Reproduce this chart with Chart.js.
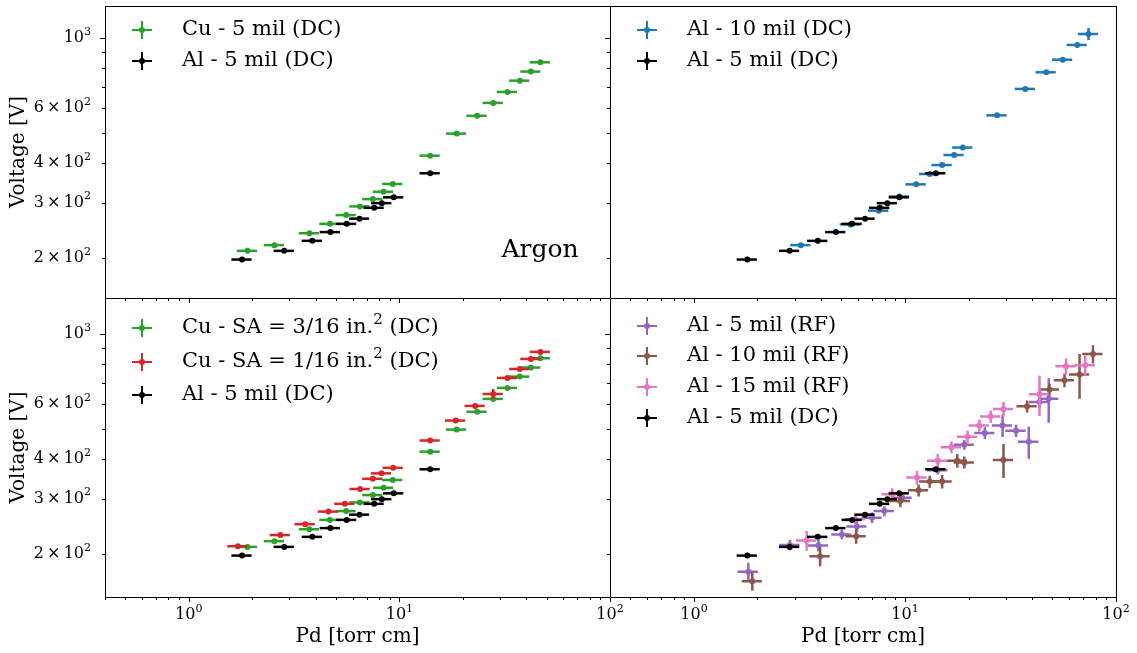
<!DOCTYPE html>
<html>
<head>
<meta charset="utf-8">
<script src="https://cdn.jsdelivr.net/npm/chart.js@4/dist/chart.umd.min.js"></script>
<style>
html, body { margin: 0; padding: 0; background: #fff; }
#wrap { position: relative; width: 1137px; height: 653px; }
#wrap canvas { position: absolute; left: 0; top: 0; }
</style>
</head>
<body>
<div id="wrap">
  <canvas id="tl" width="1137" height="653"></canvas>
  <canvas id="tr" width="1137" height="653"></canvas>
  <canvas id="bl" width="1137" height="653"></canvas>
  <canvas id="br" width="1137" height="653"></canvas>
</div>
<script>
// Breakdown voltage vs Pd (argon)

// Al - 5 mil (DC) - reference set, shown in every panel
const al5dcPd = [1.79, 2.84, 3.86, 4.70, 5.62, 6.47, 7.59, 8.25, 9.40, 14.0];
const al5dcV  = [198, 211, 227, 242, 257, 267, 289, 299, 312, 372];

// Cu - 5 mil (DC), same set as Cu - SA = 3/16 in.^2
const cu5dcPd = [1.90, 2.55, 3.74, 4.68, 5.59, 6.49, 7.48, 8.41, 9.30, 14.0, 18.7, 23.4, 27.9, 32.6, 37.3, 42.1, 46.7];
const cu5dcV  = [211, 220, 240, 257, 274, 292, 308, 325, 344, 423, 497, 566, 622, 674, 732, 782, 837];

// Al - 10 mil (DC)
const al10dcPd   = [3.21, 5.51, 7.51, 9.43, 11.3, 13.1, 15.0, 17.1, 18.8, 27.3, 37.2, 46.7, 55.9, 65.5, 74.1];
const al10dcV    = [220, 256, 283, 314, 343, 370, 395, 425, 449, 568, 689, 778, 853, 950, 1030];
const al10dcVErr = [0, 0, 0, 0, 0, 0, 0, 0, 0, 0, 0, 0, 0, 0, 45];

// Cu - SA = 1/16 in.^2 (DC)
const cuSa16Pd   = [1.71, 2.72, 3.57, 4.60, 5.51, 6.51, 7.48, 8.22, 9.35, 14.0, 18.5, 22.9, 27.9, 32.6, 37.3, 42.1, 46.7];
const cuSa16V    = [212, 230, 249, 273, 289, 322, 347, 361, 376, 459, 531, 591, 645, 725, 774, 833, 877];
const cuSa16VErr = [0, 0, 0, 0, 0, 0, 0, 0, 0, 0, 0, 0, 24, 0, 0, 0, 0];

// Al - 5 mil (RF)
const al5rfPd   = [1.81, 2.85, 3.89, 5.02, 5.92, 6.98, 7.98, 9.69, 14.3, 19.1, 23.9, 29.0, 33.6, 38.6, 43.4, 48.0];
const al5rfV    = [176, 214, 213, 231, 245, 261, 274, 302, 369, 445, 485, 512, 493, 455, 608, 623];
const al5rfVErr = [12, 8, 9, 8, 9, 10, 10, 9, 11, 16, 21, 41, 22, 53, 27, 100];

// Al - 10 mil (RF)
const al10rfPd   = [1.89, 3.96, 5.87, 9.51, 11.6, 13.1, 15.0, 17.7, 19.1, 29.3, 37.9, 48.4, 57.0, 67.2, 77.8];
const al10rfV    = [164, 197, 228, 295, 319, 340, 340, 396, 391, 398, 589, 666, 713, 743, 863];
const al10rfVErr = [11, 14, 12, 13, 14, 15, 17, 20, 17, 49, 26, 29, 36, 120, 57];

// Al - 15 mil (RF)
const al15rfPd   = [3.42, 5.81, 8.70, 11.4, 14.3, 16.6, 19.8, 22.5, 25.5, 29.3, 43.4, 58.0, 71.5];
const al15rfV    = [221, 258, 310, 350, 396, 437, 472, 512, 547, 578, 643, 790, 796];
const al15rfVErr = [16, 9, 14, 18, 20, 19, 21, 22, 24, 30, 94, 46, 58];

// Pd uncertainty (relative), same for every point
const PD_REL_ERR = 0.11;

// axes
const X_MIN = 0.4, X_MAX = 100;
const xMajor = [1, 10, 100];
const xMinor = [0.4, 0.5, 0.6, 0.7, 0.8, 0.9, 2, 3, 4, 5, 6, 7, 8, 9, 20, 30, 40, 50, 60, 70, 80, 90];
const yMajor = [1000];
const yMinor = [200, 300, 400, 500, 600, 700, 800, 900];
const yLabelled = [[200, '2', 2], [300, '3', 2], [400, '4', 2], [600, '6', 2], [1000, '', 3]];

const W = 1137, H = 653;
const SERIF = '"DejaVu Serif", "Liberation Serif", serif';

// draws the Pd and V error bars of a dataset just before its markers
const errorBars = {
  id: 'errorBars',
  beforeDatasetDraw(chart, args) {
    const ds = chart.data.datasets[args.index];
    const xs = chart.scales.x, ys = chart.scales.y, a = chart.chartArea;
    const ctx = chart.ctx;
    ctx.save();
    ctx.beginPath();
    ctx.rect(a.left, a.top, a.right - a.left, a.bottom - a.top);
    ctx.clip();
    ctx.strokeStyle = ds.borderColor;
    ctx.lineWidth = ds.barWidth;
    ds.data.forEach((p, i) => {
      const dx = p.x * PD_REL_ERR;
      const dy = ds.yErr ? ds.yErr[i] : 0;
      const px = xs.getPixelForValue(p.x), py = ys.getPixelForValue(p.y);
      ctx.beginPath();
      ctx.moveTo(xs.getPixelForValue(p.x - dx), py);
      ctx.lineTo(xs.getPixelForValue(p.x + dx), py);
      if (dy > 0) {
        ctx.moveTo(px, ys.getPixelForValue(p.y - dy));
        ctx.lineTo(px, ys.getPixelForValue(p.y + dy));
      }
      ctx.stroke();
    });
    ctx.restore();
  }
};

function drawParts(ctx, parts, x, y, size) {
  // parts at odd index are superscripts
  ctx.textAlign = 'left';
  ctx.textBaseline = 'middle';
  let cx = x;
  parts.forEach((t, i) => {
    if (i % 2 === 1) {
      ctx.font = Math.round(size * 0.7) + 'px ' + SERIF;
      ctx.fillText(t, cx, y - size * 0.38);
    } else {
      ctx.font = size + 'px ' + SERIF;
      ctx.fillText(t, cx, y);
    }
    cx += ctx.measureText(t).width;
  });
  return cx - x;
}

function powWidth(ctx, mant, exp, size) {
  ctx.font = size + 'px ' + SERIF;
  let w = ctx.measureText((mant ? mant + '\u2009\u00d7\u2009' : '') + '10').width;
  ctx.font = Math.round(size * 0.7) + 'px ' + SERIF;
  return w + ctx.measureText(String(exp)).width;
}

function drawPow(ctx, mant, exp, x, y, size) {
  drawParts(ctx, [(mant ? mant + '\u2009\u00d7\u2009' : '') + '10', String(exp)], x, y, size);
}

function decor(cfg, sets) {
  return {
    id: 'decor',
    afterDraw(chart) {
      const ctx = chart.ctx, a = chart.chartArea, xs = chart.scales.x, ys = chart.scales.y;
      ctx.save();
      ctx.strokeStyle = '#000';
      ctx.fillStyle = '#000';
      ctx.lineWidth = 1;
      ctx.strokeRect(Math.round(a.left) + 0.5, Math.round(a.top) + 0.5,
                     Math.round(a.right - a.left), Math.round(a.bottom - a.top));
      ctx.beginPath();
      xMajor.concat(xMinor).forEach(v => {
        const p = Math.round(xs.getPixelForValue(v)) + 0.5;
        const len = xMajor.includes(v) ? 5 : 3;
        ctx.moveTo(p, a.bottom); ctx.lineTo(p, a.bottom + len);
      });
      yMajor.concat(yMinor).forEach(v => {
        const p = Math.round(ys.getPixelForValue(v)) + 0.5;
        const len = yMajor.includes(v) ? 5 : 3;
        ctx.moveTo(a.left, p); ctx.lineTo(a.left - len, p);
      });
      ctx.stroke();

      if (cfg.xLabels) {
        xMajor.forEach(v => {
          const exp = Math.round(Math.log10(v));
          const w = powWidth(ctx, '', exp, 16);
          drawPow(ctx, '', exp, xs.getPixelForValue(v) - w / 2, a.bottom + 18, 16);
        });
        ctx.font = '20px ' + SERIF;
        ctx.textAlign = 'center';
        ctx.textBaseline = 'middle';
        ctx.fillText('Pd [torr cm]', (a.left + a.right) / 2, a.bottom + 40);
      }
      if (cfg.yLabels) {
        yLabelled.forEach(([v, m, e]) => {
          const w = powWidth(ctx, m, e, 16);
          drawPow(ctx, m, e, a.left - 14 - w, ys.getPixelForValue(v), 16);
        });
        ctx.save();
        ctx.translate(19, (a.top + a.bottom) / 2);
        ctx.rotate(-Math.PI / 2);
        ctx.font = '20px ' + SERIF;
        ctx.textAlign = 'center';
        ctx.textBaseline = 'middle';
        ctx.fillText('Voltage [V]', 0, 0);
        ctx.restore();
      }

      // legend
      sets.forEach((s, i) => {
        const lx = a.left + 37, ly = cfg.legendY[i];
        ctx.strokeStyle = s.color;
        ctx.fillStyle = s.color;
        ctx.lineWidth = 2;
        ctx.beginPath();
        ctx.moveTo(lx - 10, ly); ctx.lineTo(lx + 10, ly);
        ctx.moveTo(lx, ly - 9); ctx.lineTo(lx, ly + 9);
        ctx.stroke();
        ctx.beginPath();
        ctx.arc(lx, ly, s.r, 0, Math.PI * 2);
        ctx.fill();
        ctx.fillStyle = '#000';
        drawParts(ctx, s.label, a.left + 77, ly, 21);
      });

      if (cfg.note) {
        ctx.fillStyle = '#000';
        ctx.font = '25px ' + SERIF;
        ctx.textAlign = 'center';
        ctx.textBaseline = 'middle';
        ctx.fillText(cfg.note, 540, 250);
      }
      ctx.restore();
    }
  };
}

function makePanel(id, rect, ylim, sets, cfg) {
  const datasets = sets.map((s, i) => ({
    label: s.label.join(''),
    data: s.pd.map((x, j) => ({ x: x, y: s.v[j] })),
    yErr: s.vErr || null,
    backgroundColor: s.color,
    borderColor: s.color,
    pointRadius: s.r,
    pointBorderWidth: 0,
    pointHoverRadius: s.r,
    barWidth: s.lw,
    showLine: false,
    order: sets.length - i
  }));
  return new Chart(document.getElementById(id), {
    type: 'scatter',
    data: { datasets: datasets },
    options: {
      responsive: false,
      animation: false,
      devicePixelRatio: 1,
      events: [],
      layout: { padding: { left: rect.l, top: rect.t, right: W - rect.r, bottom: H - rect.b } },
      scales: {
        x: { type: 'logarithmic', min: X_MIN, max: X_MAX, bounds: 'data', display: false },
        y: { type: 'logarithmic', min: ylim[0], max: ylim[1], bounds: 'data', display: false }
      },
      plugins: { legend: { display: false }, tooltip: { enabled: false } }
    },
    plugins: [errorBars, decor(cfg, sets)]
  });
}

const GREEN = '#2ca02c', BLACK = '#000000', BLUE = '#1f77b4', RED = '#d62728',
      PURPLE = '#9467bd', BROWN = '#8c564b', PINK = '#e377c2';

const al5dc = { label: ['Al - 5 mil (DC)'], pd: al5dcPd, v: al5dcV, color: BLACK, r: 3, lw: 2.5 };

makePanel('tl', { l: 105, t: 6, r: 610, b: 298 }, [149.5, 1263], [
  { label: ['Cu - 5 mil (DC)'], pd: cu5dcPd, v: cu5dcV, color: GREEN, r: 3, lw: 2.5 },
  al5dc
], { yLabels: true, legendY: [30, 61], note: 'Argon' });

makePanel('tr', { l: 610, t: 6, r: 1116, b: 298 }, [149.5, 1263], [
  { label: ['Al - 10 mil (DC)'], pd: al10dcPd, v: al10dcV, vErr: al10dcVErr, color: BLUE, r: 3, lw: 2.5 },
  al5dc
], { legendY: [30, 61] });

makePanel('bl', { l: 105, t: 298, r: 610, b: 597 }, [146.3, 1300], [
  { label: ['Cu - SA = 3/16 in.', '2', ' (DC)'], pd: cu5dcPd, v: cu5dcV, color: GREEN, r: 3, lw: 2.5 },
  { label: ['Cu - SA = 1/16 in.', '2', ' (DC)'], pd: cuSa16Pd, v: cuSa16V, vErr: cuSa16VErr, color: RED, r: 3, lw: 2.5 },
  al5dc
], { yLabels: true, xLabels: true, legendY: [328, 362, 395] });

makePanel('br', { l: 610, t: 298, r: 1116, b: 597 }, [146.3, 1300], [
  { label: ['Al - 5 mil (RF)'], pd: al5rfPd, v: al5rfV, vErr: al5rfVErr, color: PURPLE, r: 3, lw: 2.5 },
  { label: ['Al - 10 mil (RF)'], pd: al10rfPd, v: al10rfV, vErr: al10rfVErr, color: BROWN, r: 3, lw: 2.5 },
  { label: ['Al - 15 mil (RF)'], pd: al15rfPd, v: al15rfV, vErr: al15rfVErr, color: PINK, r: 3, lw: 2.5 },
  al5dc
], { xLabels: true, legendY: [326, 356, 387, 418] });
</script>
</body>
</html>
